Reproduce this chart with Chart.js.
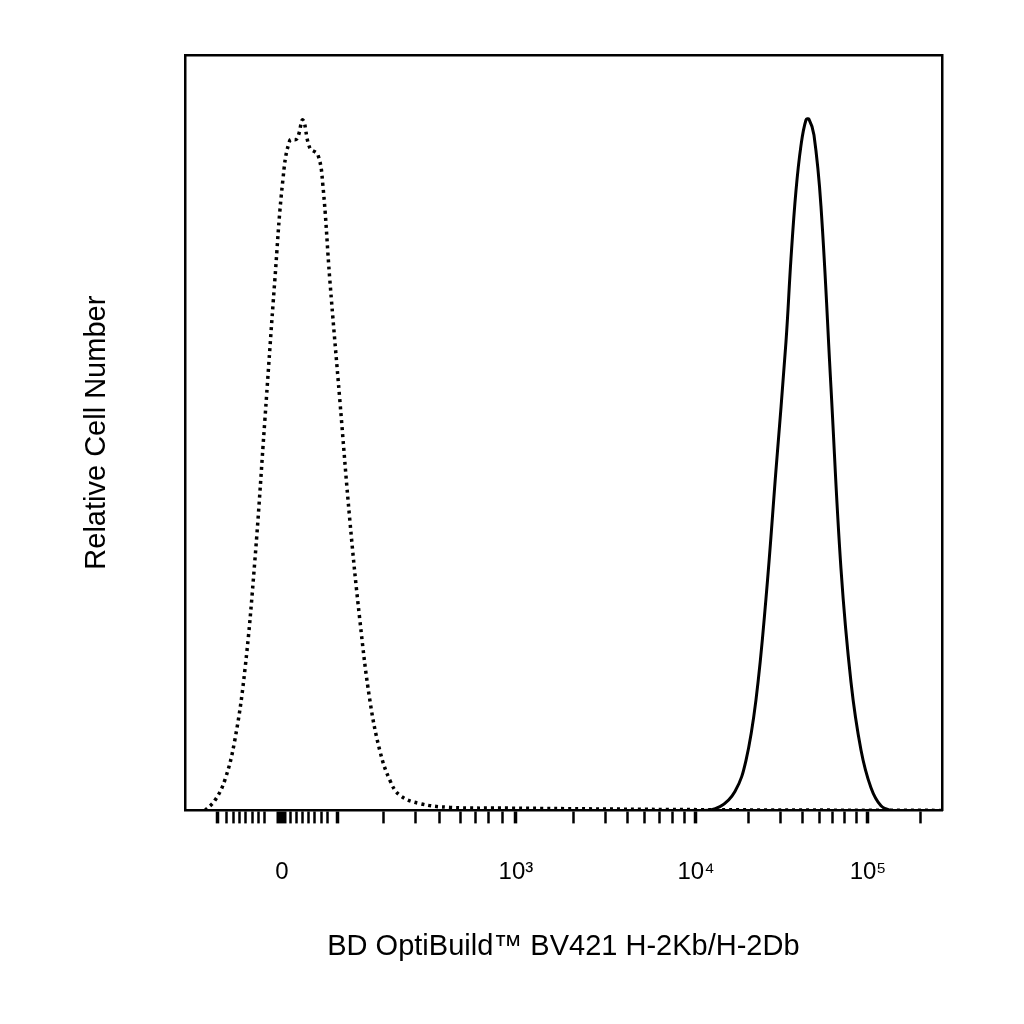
<!DOCTYPE html>
<html><head><script src="https://cdn.jsdelivr.net/npm/chart.js@4"></script>
<style>body{margin:0;background:#fff}#w{width:1024px;height:1024px}</style></head>
<body><div id="w"><canvas id="c"></canvas></div>
<script>
// x in display channels (0..757), y in relative count (0..100)
const isoX = [20,30,40,50,60,70,80,90,98,105,112,118,125,133,138,145,155,165,175,185,195,205,215,235,265,325,515,757];
const isoY = [0,1.3,4,9.3,18.5,33,51.6,70.2,83.4,88.7,88.9,91.4,87.7,86.8,82.8,70.2,54.3,38.4,25.2,14.6,7.9,4,2,0.9,0.4,0.3,0.1,0];
const stX = [0,515,535,550,561,571,581,591,601,606,611,616,621,624,629,636,646,656,666,676,686,696,706,716,757];
const stY = [0,0,0.5,2.5,6.6,14.6,28,45,62,73,82,88,91.4,91.5,89.4,80,56,32,17,8,3,0.6,0,0,0];
const tickPos = [33,42,49,55,61,68,74,80,97,106,112,118,124,130,137,143,153,199,231,255,276,291,304,318,331,389,421,443,460,475,488,500,511,564,596,618,635,648,660,672,683,736];
const majorTicks = {97:'0',331:'10³',511:'10⁴',683:'10⁵'};
const majorLong = [33,97,153,331,511,683];
const xTitle = 'BD OptiBuild™ BV421 H-2Kb/H-2Db';
const yTitle = 'Relative Cell Number';
const pts=(xs,ys)=>xs.map((x,i)=>({x,y:ys[i]}));
new Chart(document.getElementById('c'),{type:'line',
data:{datasets:[
{data:pts(isoX,isoY),borderColor:'#000',borderWidth:3.5,borderDash:[3,4],pointRadius:0,tension:0.4,fill:false},
{data:pts(stX,stY),borderColor:'#000',borderWidth:3,pointRadius:0,tension:0.4,fill:false}]},
options:{responsive:true,maintainAspectRatio:false,animation:false,
layout:{padding:{left:76,right:74,top:47,bottom:56}},
plugins:{legend:{display:false},tooltip:{enabled:false}},
scales:{
x:{type:'linear',min:0,max:757,
 afterBuildTicks:s=>{s.ticks=tickPos.map(v=>({value:v}));},
 ticks:{autoSkip:false,maxRotation:0,padding:35,color:'#000',font:{family:'Liberation Sans',size:24},callback:v=>majorTicks[v]||''},
 grid:{drawOnChartArea:false,tickLength:13,tickColor:'#000',tickWidth:c=>c.tick&&c.tick.value===97?10:(majorLong.includes(c.tick&&c.tick.value)?3.5:2.5)},
 border:{color:'#000',width:2.5},
 title:{display:true,text:xTitle,color:'#000',font:{family:'Liberation Sans',size:29},padding:{top:7}}},
y:{min:0,max:100,ticks:{display:false},grid:{display:false},border:{color:'#000',width:2.5},
 title:{display:true,text:yTitle,color:'#000',font:{family:'Liberation Sans',size:29},padding:{bottom:62}}},
x2:{position:'top',ticks:{display:false},grid:{display:false},border:{color:'#000',width:2.5}},
y2:{position:'right',ticks:{display:false},grid:{display:false},border:{color:'#000',width:2.5}}
}}});
</script></body></html>
